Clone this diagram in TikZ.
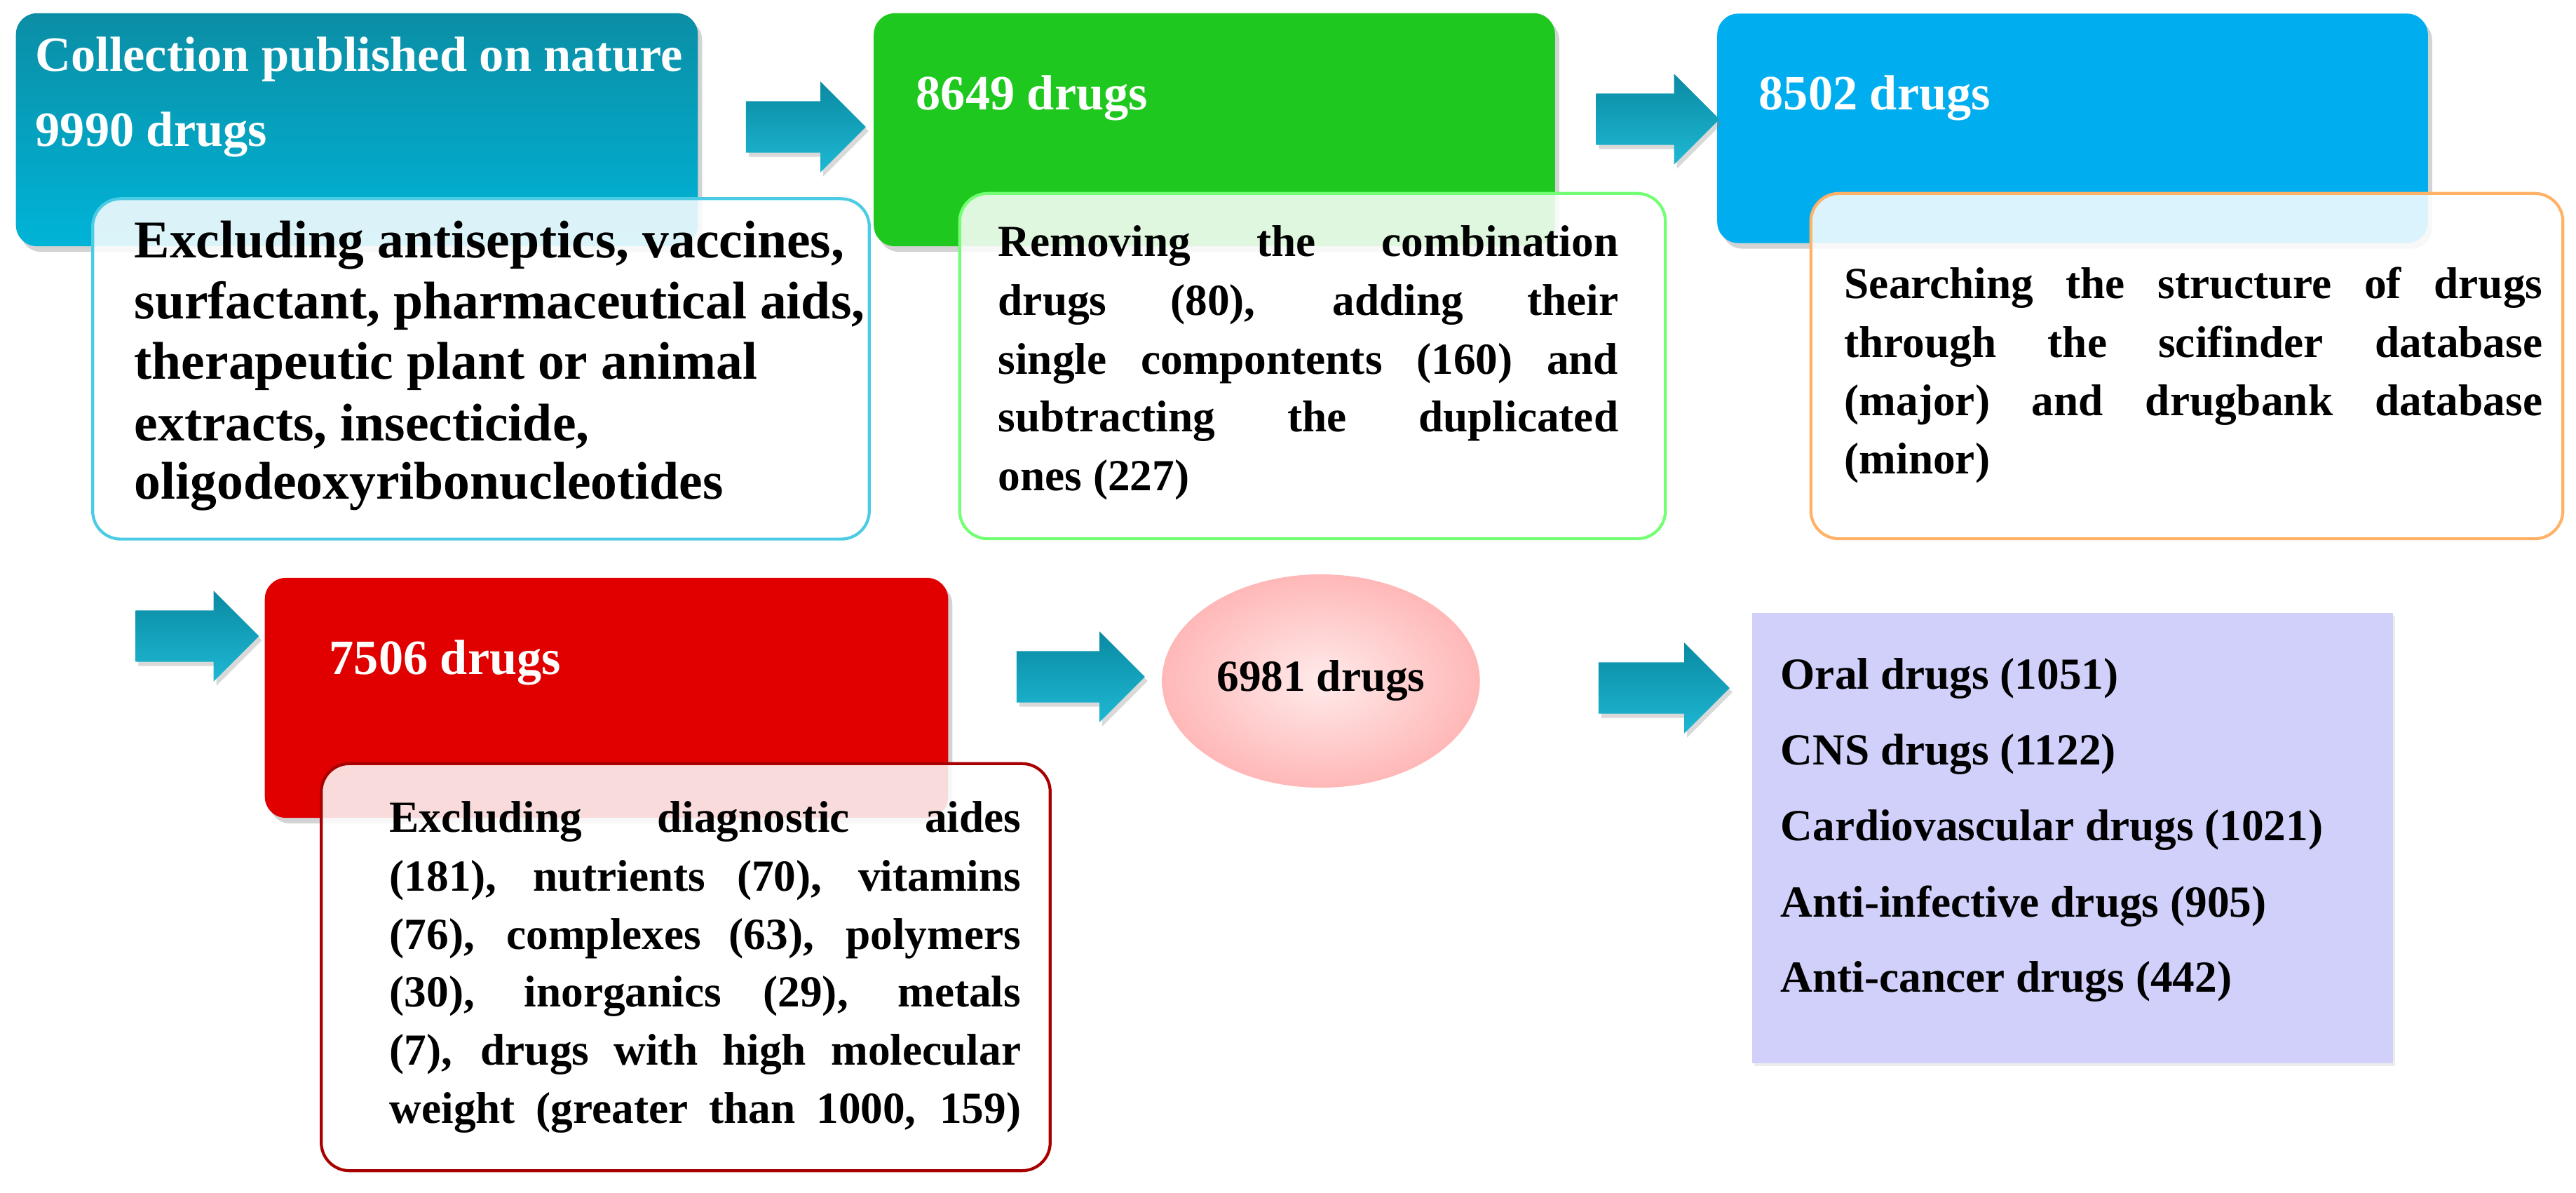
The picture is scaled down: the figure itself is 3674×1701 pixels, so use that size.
\documentclass[tikz,border=0pt]{standalone}
\usepackage{fontspec}
\setmainfont{Liberation Serif}
\usetikzlibrary{shapes.geometric,shapes.arrows,shadows}
\definecolor{teal1}{HTML}{0B8EA5}
\definecolor{teal2}{HTML}{00B4D8}
\definecolor{grn}{HTML}{1EC81E}
\definecolor{blu}{HTML}{00AEEF}
\definecolor{redd}{HTML}{E00000}
\definecolor{purp}{HTML}{D0D0FB}
\definecolor{arr1}{HTML}{0A8AA2}
\definecolor{arr2}{HTML}{1EB8D4}
\newcommand{\jl}[2]{\makebox[#1][s]{#2}}
\begin{document}
\begin{tikzpicture}[x=0.01cm,y=-0.01cm,
  hdr/.style={rounded corners=0.3cm, minimum width=#1, drop shadow={shadow xshift=0.06cm,shadow yshift=-0.08cm,opacity=0.35}},
  wbox/.style={draw=#1, line width=1.2pt, rounded corners=0.4cm, fill=white, fill opacity=0.86, text opacity=1},
  htxt/.style={anchor=west, text=white, font=\bfseries\fontsize{20}{24}\selectfont, inner sep=0},
  btxt/.style={anchor=west, font=\bfseries\fontsize{18}{22}\selectfont, inner sep=0, align=left},
  btxtL/.style={btxt, font=\bfseries\fontsize{21.5}{25}\selectfont},
  barrow/.style={single arrow, single arrow head extend=0.28cm, single arrow head indent=0pt, inner xsep=0pt, inner ysep=0.36cm, minimum height=#1, top color=arr1, bottom color=arr2, draw=none, drop shadow={shadow xshift=0.04cm,shadow yshift=-0.06cm,opacity=0.3}}]
\useasboundingbox (0,0) rectangle (3674,1701);

% row 1
\node[hdr=9.72cm, minimum height=3.32cm, top color=teal1, bottom color=teal2] (b1) at (509,185) {};
\node[hdr=9.71cm, minimum height=3.32cm, fill=grn] (b2) at (1732,185) {};
\node[hdr=10.13cm, minimum height=3.27cm, fill=blu] (b3) at (2956,183) {};
\node[wbox=teal2!70, minimum width=11.07cm, minimum height=4.85cm] (w1) at (686,526) {};
\node[wbox=green!55, minimum width=10.06cm, minimum height=4.92cm] (w2) at (1872,522) {};
\node[wbox=orange!60, minimum width=10.72cm, minimum height=4.92cm] (w3) at (3119,522) {};

\node[htxt] (t1a) at (50,85) {Collection published on nature};
\node[htxt] (t1b) at (50,192) {9990 drugs};
\node[htxt] (t2) at (1306,140) {8649 drugs};
\node[htxt] (t3) at (2508,140) {8502 drugs};

\node[btxtL] (x1a) at (191,350) {Excluding antiseptics, vaccines,};
\node[btxtL] (x1b) at (191,436) {surfactant, pharmaceutical aids,};
\node[btxtL] (x1c) at (191,522) {therapeutic plant or animal};
\node[btxtL] (x1d) at (191,608) {extracts, insecticide,};
\node[btxtL] (x1e) at (191,694) {oligodeoxyribonucleotides};

\node[btxt] (x2a) at (1423,351) {\jl{8.84cm}{Removing the combination}};
\node[btxt] (x2b) at (1423,435) {\jl{8.84cm}{drugs (80), adding their}};
\node[btxt] (x2c) at (1423,519) {\jl{8.84cm}{single compontents (160) and}};
\node[btxt] (x2d) at (1423,601) {\jl{8.84cm}{subtracting the duplicated}};
\node[btxt] (x2e) at (1423,684) {ones (227)};

\node[btxt] (x3a) at (2630,410) {\jl{9.95cm}{Searching the structure of drugs}};
\node[btxt] (x3b) at (2630,494) {\jl{9.95cm}{through the scifinder database}};
\node[btxt] (x3c) at (2630,578) {\jl{9.95cm}{(major) and drugbank database}};
\node[btxt] (x3d) at (2630,660) {(minor)};

\node[barrow=1.71cm] (a1) at (1131,181) {};
\node[barrow=1.76cm] (a2) at (2346,170) {};

% row 2
\node[barrow=1.76cm] (a3) at (263,907) {};
\node[hdr=9.74cm, minimum height=3.42cm, fill=redd] (b4) at (865,995) {};
\node[wbox=redd!75!black, minimum width=10.39cm, minimum height=5.8cm] (w4) at (978,1379) {};
\node[htxt] (t4) at (469,945) {7506 drugs};
\node[btxt] (x4a) at (555,1172) {\jl{9.0cm}{Excluding diagnostic aides}};
\node[btxt] (x4b) at (555,1255) {\jl{9.0cm}{(181), nutrients (70), vitamins}};
\node[btxt] (x4c) at (555,1338) {\jl{9.0cm}{(76), complexes (63), polymers}};
\node[btxt] (x4d) at (555,1421) {\jl{9.0cm}{(30), inorganics (29), metals}};
\node[btxt] (x4e) at (555,1504) {\jl{9.0cm}{(7), drugs with high molecular}};
\node[btxt] (x4f) at (555,1587) {\jl{9.0cm}{weight (greater than 1000, 159)}};

\node[barrow=1.83cm] (a4) at (1523,965) {};
\node[ellipse, minimum width=3.98cm, minimum height=3.04cm, inner color=red!8, outer color=red!28, font=\bfseries\fontsize{18}{22}\selectfont] (e) at (1884,971) {6981 drugs};
\node[barrow=1.87cm] (a5) at (2355,981) {};

\node[fill=purp, minimum width=9.13cm, minimum height=6.42cm, drop shadow={shadow xshift=0.03cm,shadow yshift=-0.04cm,opacity=0.15}] (p) at (2956,1195) {};
\node[btxt] (p1) at (2539,968) {Oral drugs (1051)};
\node[btxt] (p2) at (2539,1076) {CNS drugs (1122)};
\node[btxt] (p3) at (2539,1184) {Cardiovascular drugs (1021)};
\node[btxt] (p4) at (2539,1292) {Anti-infective drugs (905)};
\node[btxt] (p5) at (2539,1400) {Anti-cancer drugs (442)};
\end{tikzpicture}
\end{document}
